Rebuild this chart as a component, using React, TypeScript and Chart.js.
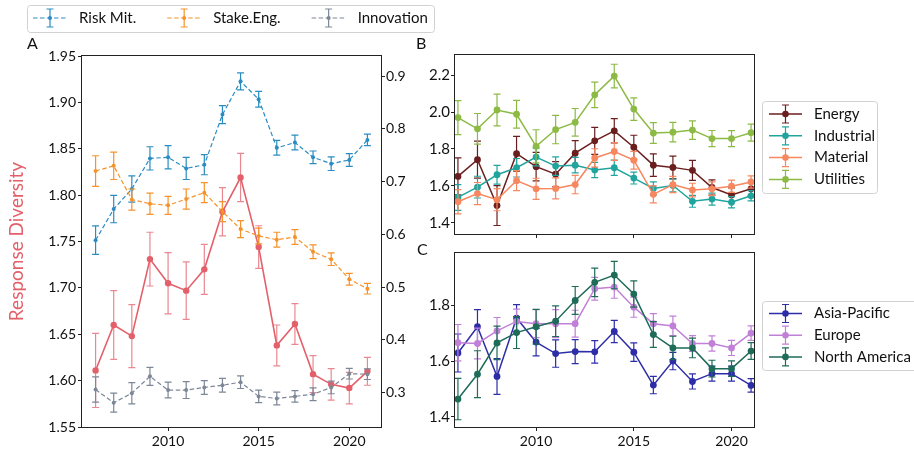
import React, { useEffect, useRef } from "react";
import { Chart, registerables } from "chart.js";

Chart.register(...registerables);

const FONT = "Lato, 'DejaVu Sans', sans-serif";
Chart.defaults.font.family = FONT;

// ---- data -------------------------------------------------------------
const years = [2006, 2007, 2008, 2009, 2010, 2011, 2012, 2013, 2014, 2015, 2016, 2017, 2018, 2019, 2020, 2021];

// Panel A, left axis
const responseDiversity = [1.611, 1.660, 1.648, 1.731, 1.705, 1.697, 1.720, 1.782, 1.819, 1.744, 1.638, 1.661, 1.607, 1.596, 1.592, 1.610];
const responseDiversityErr = [0.040, 0.037, 0.034, 0.029, 0.033, 0.031, 0.027, 0.026, 0.026, 0.023, 0.022, 0.022, 0.020, 0.017, 0.017, 0.015];

// Panel A, right axis
const riskMit = [0.589, 0.648, 0.686, 0.744, 0.746, 0.725, 0.732, 0.827, 0.890, 0.856, 0.764, 0.774, 0.746, 0.734, 0.741, 0.779];
const riskMitErr = [0.027, 0.026, 0.025, 0.022, 0.022, 0.021, 0.019, 0.017, 0.016, 0.015, 0.014, 0.014, 0.012, 0.013, 0.012, 0.011];
const stakeEng = [0.720, 0.730, 0.666, 0.658, 0.655, 0.667, 0.679, 0.643, 0.610, 0.597, 0.590, 0.595, 0.567, 0.553, 0.515, 0.497];
const stakeEngErr = [0.029, 0.026, 0.020, 0.020, 0.017, 0.019, 0.019, 0.019, 0.016, 0.015, 0.014, 0.014, 0.013, 0.012, 0.011, 0.010];
const innovation = [0.306, 0.281, 0.299, 0.331, 0.305, 0.305, 0.310, 0.314, 0.320, 0.293, 0.289, 0.293, 0.297, 0.310, 0.336, 0.335];
const innovationErr = [0.024, 0.018, 0.020, 0.017, 0.015, 0.016, 0.013, 0.013, 0.012, 0.012, 0.012, 0.011, 0.012, 0.012, 0.010, 0.010];

// Panel B, sectors
const energy = [1.651, 1.742, 1.493, 1.774, 1.704, 1.663, 1.777, 1.844, 1.898, 1.809, 1.712, 1.700, 1.684, 1.591, 1.551, 1.584];
const energyErr = [0.100, 0.100, 0.108, 0.094, 0.077, 0.068, 0.068, 0.073, 0.066, 0.065, 0.061, 0.061, 0.054, 0.041, 0.038, 0.035];
const industrial = [1.537, 1.593, 1.660, 1.698, 1.756, 1.707, 1.712, 1.686, 1.698, 1.642, 1.586, 1.602, 1.516, 1.528, 1.511, 1.546];
const industrialErr = [0.070, 0.059, 0.051, 0.050, 0.048, 0.050, 0.042, 0.041, 0.041, 0.032, 0.036, 0.034, 0.032, 0.032, 0.030, 0.028];
const material = [1.514, 1.558, 1.525, 1.628, 1.584, 1.586, 1.607, 1.751, 1.786, 1.739, 1.554, 1.607, 1.577, 1.584, 1.598, 1.621];
const materialErr = [0.066, 0.060, 0.060, 0.054, 0.057, 0.057, 0.050, 0.050, 0.048, 0.048, 0.046, 0.044, 0.037, 0.037, 0.033, 0.033];
const utilities = [1.970, 1.909, 2.011, 1.988, 1.814, 1.905, 1.944, 2.093, 2.195, 2.016, 1.886, 1.891, 1.902, 1.856, 1.856, 1.888];
const utilitiesErr = [0.092, 0.083, 0.086, 0.075, 0.090, 0.077, 0.075, 0.069, 0.064, 0.061, 0.056, 0.053, 0.050, 0.044, 0.043, 0.046];

// Panel C, regions
const asiaPacific = [1.629, 1.723, 1.545, 1.754, 1.668, 1.627, 1.634, 1.633, 1.706, 1.632, 1.514, 1.600, 1.527, 1.555, 1.555, 1.513];
const asiaPacificErr = [0.068, 0.061, 0.064, 0.048, 0.049, 0.049, 0.043, 0.040, 0.040, 0.033, 0.031, 0.031, 0.027, 0.027, 0.027, 0.024];
const europe = [1.666, 1.663, 1.708, 1.742, 1.734, 1.734, 1.734, 1.859, 1.865, 1.793, 1.734, 1.726, 1.663, 1.663, 1.647, 1.700];
const europeErr = [0.065, 0.055, 0.048, 0.044, 0.050, 0.050, 0.048, 0.041, 0.040, 0.036, 0.036, 0.035, 0.028, 0.027, 0.027, 0.026];
const northAmerica = [1.464, 1.553, 1.665, 1.702, 1.723, 1.743, 1.817, 1.882, 1.908, 1.840, 1.695, 1.647, 1.647, 1.573, 1.573, 1.636];
const northAmericaErr = [0.074, 0.084, 0.060, 0.057, 0.062, 0.055, 0.050, 0.051, 0.049, 0.047, 0.046, 0.042, 0.035, 0.030, 0.028, 0.030];

// tick labels
const yearTicks = [2010, 2015, 2020];
const leftTicksA = [1.55, 1.6, 1.65, 1.7, 1.75, 1.8, 1.85, 1.9, 1.95];
const rightTicksA = [0.3, 0.4, 0.5, 0.6, 0.7, 0.8, 0.9];
const ticksB = [1.4, 1.6, 1.8, 2.0, 2.2];
const ticksC = [1.4, 1.6, 1.8];

// ---- colours ----------------------------------------------------------
const RED = "#e3606b";
const C_RISK = "#2a8cc3";
const C_STAKE = "#f6922a";
const C_INNOV = "#7d8797";
const C_ENERGY = "#6b1e1e";
const C_INDUSTRIAL = "#20a59e";
const C_MATERIAL = "#f7875f";
const C_UTILITIES = "#8cba45";
const C_ASIA = "#2d2da8";
const C_EUROPE = "#c180d7";
const C_NA = "#1e6b58";
const INK = "#111111";

// ---- helpers ----------------------------------------------------------
const pts = (vals: number[]) => years.map((x, i) => ({ x, y: vals[i] }));

function series(
  label: string,
  vals: number[],
  errs: number[],
  color: string,
  opts: { dashed?: boolean; radius: number; width: number; axis?: string; order: number; errColor?: string }
) {
  return {
    label,
    data: pts(vals),
    errors: errs,
    errorColor: opts.errColor || color,
    errorWidth: 1.2,
    borderColor: color,
    backgroundColor: color,
    pointBackgroundColor: color,
    pointBorderColor: color,
    pointBorderWidth: 0,
    pointRadius: opts.radius,
    pointHoverRadius: opts.radius,
    borderWidth: opts.width,
    borderDash: opts.dashed ? [4.5, 2.5] : [],
    tension: 0,
    fill: false,
    yAxisID: opts.axis || "y",
    order: opts.order,
  };
}

const fixedTicks = (vals: number[]) => (scale: any) => {
  scale.ticks = vals.map((v) => ({ value: v }));
};

// vertical error bars with caps, painted just under each line
const errorBarPlugin = {
  id: "errorBars",
  beforeDatasetDraw(chart: any, args: any) {
    const ds = chart.data.datasets[args.index];
    if (!ds.errors) return;
    const meta = args.meta;
    const xs = chart.scales[meta.xAxisID];
    const ys = chart.scales[meta.yAxisID];
    const a = chart.chartArea;
    const ctx = chart.ctx;
    const cap = 3.5;
    ctx.save();
    ctx.beginPath();
    ctx.rect(a.left, a.top, a.right - a.left, a.bottom - a.top);
    ctx.clip();
    ctx.strokeStyle = ds.errorColor;
    ctx.lineWidth = ds.errorWidth;
    ctx.setLineDash([]);
    ds.data.forEach((p: any, i: number) => {
      const x = xs.getPixelForValue(p.x);
      const lo = ys.getPixelForValue(p.y - ds.errors[i]);
      const hi = ys.getPixelForValue(p.y + ds.errors[i]);
      ctx.beginPath();
      ctx.moveTo(x, lo);
      ctx.lineTo(x, hi);
      ctx.moveTo(x - cap, lo);
      ctx.lineTo(x + cap, lo);
      ctx.moveTo(x - cap, hi);
      ctx.lineTo(x + cap, hi);
      ctx.stroke();
    });
    ctx.restore();
  },
};

// box around the plotting area
const framePlugin = {
  id: "frame",
  afterDatasetsDraw(chart: any) {
    const a = chart.chartArea;
    const ctx = chart.ctx;
    ctx.save();
    ctx.strokeStyle = "#222";
    ctx.lineWidth = 1;
    ctx.strokeRect(a.left - 0.5, a.top - 0.5, a.right - a.left + 1, a.bottom - a.top + 1);
    ctx.restore();
  },
};

type Caption = { text: string; x: number; y: number; size: number };
const captionPlugin = (items: Caption[]) => ({
  id: "captions",
  afterDraw(chart: any) {
    const ctx = chart.ctx;
    ctx.save();
    ctx.fillStyle = INK;
    ctx.textBaseline = "middle";
    ctx.textAlign = "left";
    items.forEach((c) => {
      ctx.font = `${c.size}px ${FONT}`;
      ctx.fillText(c.text, c.x, c.y);
    });
    ctx.restore();
  },
});

type LegendLayout = {
  box: [number, number, number, number];
  items: number[];
  horizontal: boolean;
  x0: number;
  y0: number;
  rowGap: number;
  colGap: number;
  handleLen: number;
  textGap: number;
  fontSize: number;
  markerR: number;
};

function drawHandle(ctx: CanvasRenderingContext2D, x: number, y: number, ds: any, L: LegendLayout) {
  const cx = x + L.handleLen / 2;
  ctx.strokeStyle = ds.borderColor;
  ctx.lineWidth = ds.borderWidth;
  ctx.setLineDash(ds.borderDash || []);
  ctx.beginPath();
  ctx.moveTo(x, y);
  ctx.lineTo(x + L.handleLen, y);
  ctx.stroke();
  ctx.setLineDash([]);
  ctx.strokeStyle = ds.errorColor;
  ctx.lineWidth = ds.errorWidth;
  ctx.beginPath();
  ctx.moveTo(cx, y - 9);
  ctx.lineTo(cx, y + 9);
  ctx.moveTo(cx - 3.5, y - 9);
  ctx.lineTo(cx + 3.5, y - 9);
  ctx.moveTo(cx - 3.5, y + 9);
  ctx.lineTo(cx + 3.5, y + 9);
  ctx.stroke();
  ctx.fillStyle = ds.pointBackgroundColor;
  ctx.beginPath();
  ctx.arc(cx, y, L.markerR, 0, Math.PI * 2);
  ctx.fill();
}

const legendPlugin = (L: LegendLayout) => ({
  id: "boxLegend",
  afterDraw(chart: any) {
    const ctx: CanvasRenderingContext2D = chart.ctx;
    const [bx, by, bw, bh] = L.box;
    ctx.save();
    ctx.beginPath();
    const r = 3;
    ctx.moveTo(bx + r, by);
    ctx.arcTo(bx + bw, by, bx + bw, by + bh, r);
    ctx.arcTo(bx + bw, by + bh, bx, by + bh, r);
    ctx.arcTo(bx, by + bh, bx, by, r);
    ctx.arcTo(bx, by, bx + bw, by, r);
    ctx.closePath();
    ctx.fillStyle = "rgba(255,255,255,0.85)";
    ctx.fill();
    ctx.strokeStyle = "#d2d2d2";
    ctx.lineWidth = 1;
    ctx.stroke();
    ctx.font = `${L.fontSize}px ${FONT}`;
    ctx.textBaseline = "middle";
    ctx.textAlign = "left";
    let x = L.x0;
    let y = L.y0;
    L.items.forEach((idx) => {
      const ds = chart.data.datasets[idx];
      drawHandle(ctx, x, y, ds, L);
      ctx.fillStyle = INK;
      ctx.fillText(ds.label, x + L.textGap, y);
      if (L.horizontal) x += L.textGap + ctx.measureText(ds.label).width + L.colGap;
      else y += L.rowGap;
    });
    ctx.restore();
  },
});

const tickGrid = { drawOnChartArea: false, drawTicks: true, tickLength: 4, color: "#222", lineWidth: 1 };
const noBorder = { display: false };

function xScale(min: number, max: number, showLabels: boolean, height: number) {
  return {
    type: "linear" as const,
    position: "bottom" as const,
    min,
    max,
    afterBuildTicks: fixedTicks(yearTicks),
    afterFit: (s: any) => {
      s.height = height;
    },
    grid: tickGrid,
    border: noBorder,
    ticks: {
      display: showLabels,
      color: INK,
      font: { size: 14 },
      padding: 2,
      maxRotation: 0,
      callback: (v: any) => String(v),
    },
  };
}

function yScale(
  min: number,
  max: number,
  ticks: number[],
  digits: number,
  position: "left" | "right",
  width: number,
  size: number,
  padding: number
) {
  return {
    type: "linear" as const,
    position,
    min,
    max,
    afterBuildTicks: fixedTicks(ticks),
    afterFit: (s: any) => {
      s.width = width;
    },
    grid: tickGrid,
    border: noBorder,
    ticks: {
      color: INK,
      font: { size },
      padding,
      callback: (v: any) => Number(v).toFixed(digits),
    },
  };
}

const baseOptions = {
  responsive: false,
  maintainAspectRatio: false,
  animation: false as const,
  events: [] as any[],
};

export default function App() {
  const refA = useRef<HTMLCanvasElement>(null);
  const refB = useRef<HTMLCanvasElement>(null);
  const refC = useRef<HTMLCanvasElement>(null);

  useEffect(() => {
    const legendA: LegendLayout = {
      box: [27.5, 5.5, 407, 27],
      items: [1, 2, 3],
      horizontal: true,
      x0: 33,
      y0: 18,
      rowGap: 0,
      colGap: 31,
      handleLen: 34,
      textGap: 46,
      fontSize: 15,
      markerR: 2,
    };

    const yA = yScale(1.55, 1.95, leftTicksA, 2, "left", 82, 14, 2) as any;
    yA.title = {
      display: true,
      text: "Response Diversity",
      color: RED,
      font: { size: 19 },
      padding: { top: 5, bottom: 0 },
    };

    const chartA = new Chart(refA.current as HTMLCanvasElement, {
      type: "line",
      data: {
        datasets: [
          series("Response Diversity", responseDiversity, responseDiversityErr, RED, {
            radius: 3.2,
            width: 1.6,
            axis: "y",
            order: 10,
            errColor: "rgba(227,96,107,0.75)",
          }),
          series("Risk Mit.", riskMit, riskMitErr, C_RISK, { dashed: true, radius: 2, width: 1.2, axis: "y1", order: 3 }),
          series("Stake.Eng.", stakeEng, stakeEngErr, C_STAKE, { dashed: true, radius: 2, width: 1.2, axis: "y1", order: 2 }),
          series("Innovation", innovation, innovationErr, C_INNOV, { dashed: true, radius: 2, width: 1.2, axis: "y1", order: 1 }),
        ] as any,
      },
      options: {
        ...baseOptions,
        layout: { padding: { top: 56, left: 0, right: 0, bottom: 0 } },
        scales: {
          x: xScale(2005.25, 2021.75, true, 25),
          y: yA,
          y1: yScale(0.235, 0.938, rightTicksA, 1, "right", 59, 14, 1),
        } as any,
        plugins: { legend: { display: false }, tooltip: { enabled: false } },
      },
      plugins: [errorBarPlugin, framePlugin, legendPlugin(legendA), captionPlugin([{ text: "A", x: 27, y: 44, size: 16 }])],
    });

    const legendB: LegendLayout = {
      box: [362.5, 101.5, 115, 92],
      items: [0, 1, 2, 3],
      horizontal: false,
      x0: 369,
      y0: 114,
      rowGap: 21.8,
      colGap: 0,
      handleLen: 33,
      textGap: 45,
      fontSize: 15,
      markerR: 3.3,
    };

    const chartB = new Chart(refB.current as HTMLCanvasElement, {
      type: "line",
      data: {
        datasets: [
          series("Energy", energy, energyErr, C_ENERGY, { radius: 3.4, width: 1.5, order: 4 }),
          series("Industrial", industrial, industrialErr, C_INDUSTRIAL, { radius: 3.4, width: 1.5, order: 3 }),
          series("Material", material, materialErr, C_MATERIAL, { radius: 3.4, width: 1.5, order: 2 }),
          series("Utilities", utilities, utilitiesErr, C_UTILITIES, { radius: 3.4, width: 1.5, order: 1 }),
        ] as any,
      },
      options: {
        ...baseOptions,
        layout: { padding: { top: 55, left: 0, right: 160, bottom: 0 } },
        scales: {
          x: xScale(2005.85, 2021.15, false, 5),
          y: yScale(1.339, 2.309, ticksB, 1, "left", 55, 15, 1),
        } as any,
        plugins: { legend: { display: false }, tooltip: { enabled: false } },
      },
      plugins: [errorBarPlugin, framePlugin, legendPlugin(legendB), captionPlugin([{ text: "B", x: 16, y: 44, size: 16 }])],
    });

    const legendC: LegendLayout = {
      box: [362.5, 58.5, 160, 69],
      items: [0, 1, 2],
      horizontal: false,
      x0: 369,
      y0: 70.5,
      rowGap: 21.7,
      colGap: 0,
      handleLen: 33,
      textGap: 45,
      fontSize: 15,
      markerR: 3.3,
    };

    const chartC = new Chart(refC.current as HTMLCanvasElement, {
      type: "line",
      data: {
        datasets: [
          series("Asia-Pacific", asiaPacific, asiaPacificErr, C_ASIA, { radius: 3.4, width: 1.5, order: 3 }),
          series("Europe", europe, europeErr, C_EUROPE, { radius: 3.4, width: 1.5, order: 2 }),
          series("North America", northAmerica, northAmericaErr, C_NA, { radius: 3.4, width: 1.5, order: 1 }),
        ] as any,
      },
      options: {
        ...baseOptions,
        layout: { padding: { top: 1, left: 0, right: 160, bottom: 0 } },
        scales: {
          x: xScale(2005.85, 2021.15, true, 25),
          y: yScale(1.364, 1.987, ticksC, 1, "left", 55, 15, 1),
        } as any,
        plugins: { legend: { display: false }, tooltip: { enabled: false } },
      },
      plugins: [errorBarPlugin, framePlugin, legendPlugin(legendC), captionPlugin([{ text: "C", x: 17, y: 7, size: 16 }])],
    });

    return () => {
      chartA.destroy();
      chartB.destroy();
      chartC.destroy();
    };
  }, []);

  return (
    <div style={{ position: "absolute", left: 0, top: 0, width: 914, height: 452, background: "#fff", overflow: "hidden" }}>
      <canvas ref={refA} width={440} height={452} style={{ position: "absolute", left: 0, top: 0 }} />
      <canvas ref={refB} width={514} height={244} style={{ position: "absolute", left: 400, top: 0 }} />
      <canvas ref={refC} width={514} height={209} style={{ position: "absolute", left: 400, top: 243 }} />
    </div>
  );
}
